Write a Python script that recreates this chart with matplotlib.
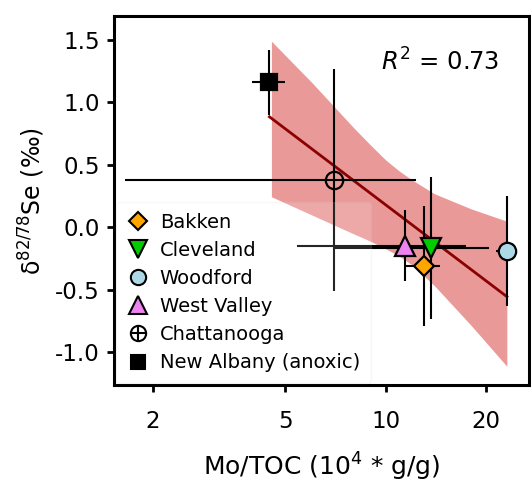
import numpy as np
import matplotlib
matplotlib.use("Agg")
import matplotlib.pyplot as plt
from matplotlib.lines import Line2D
from matplotlib.ticker import FixedLocator, NullLocator, FixedFormatter

plt.rcParams['font.family'] = ['DejaVu Sans']
plt.rcParams['mathtext.fontset'] = 'dejavusans'
plt.rcParams['axes.unicode_minus'] = False

# shale sites
names = ['Bakken', 'Cleveland', 'Woodford', 'West Valley', 'Chattanooga', 'New Albany (anoxic)']
mo_toc = [13.0, 13.7, 23.1, 11.4, 7.0, 4.48]
mo_toc_err = [1.6, 6.7, 1.6, 6.0, 5.35, 0.5]
se = [-0.31, -0.165, -0.185, -0.145, 0.38, 1.16]
se_err = [0.48, 0.57, 0.44, 0.285, 0.89, 0.26]

markers = ['D', 'v', 'o', '^', 'o', 's']
colors = ['orange', '#00cc00', 'lightblue', 'violet', 'none', 'black']
msizes = [10, 14, 12.5, 14, 12.5, 11.5]

# regression fit and confidence band
fit_x = [4.48, 23.1]
fit_y = [0.885, -0.553]
band_x = [4.54, 6.0, 8.0, 9.0, 10.0, 11.0, 12.0, 14.0, 18.0, 23.1]
band_hi = [1.49, 1.16, 0.80, 0.66, 0.54, 0.45, 0.38, 0.27, 0.15, 0.05]
band_lo = [0.246, 0.10, -0.05, -0.11, -0.17, -0.23, -0.30, -0.465, -0.78, -1.11]

fig = plt.figure(figsize=(5.31, 4.9), dpi=100)
ax = fig.add_axes([0.2147, 0.2143, 0.7813, 0.7527])

ax.fill_between(band_x, band_lo, band_hi, color='#ea9999', lw=0, zorder=1)
ax.plot(fit_x, fit_y, color='darkred', lw=2, zorder=2)

handles = []
for i in range(len(names)):
    ax.errorbar(mo_toc[i], se[i], xerr=mo_toc_err[i], yerr=se_err[i],
                fmt='none', ecolor='black', elinewidth=1.5, capsize=0, zorder=3)
    ax.plot(mo_toc[i], se[i], marker=markers[i], ms=msizes[i], mfc=colors[i],
            mec='black', mew=1.6, ls='none', zorder=4)
    h = Line2D([], [], marker=markers[i], ms=msizes[i] * 0.88, mfc=colors[i],
               mec='black', mew=1.5, ls='none')
    if names[i] == 'Chattanooga':
        plus = Line2D([], [], marker='+', ms=msizes[i] * 0.88, mec='black',
                      mew=1.5, ls='none')
        h = (h, plus)
    handles.append(h)

ax.set_xscale('log')
ax.set_xlim(1.53, 26.9)
ax.set_ylim(-1.26, 1.69)
ax.xaxis.set_major_locator(FixedLocator([2, 5, 10, 20]))
ax.xaxis.set_major_formatter(FixedFormatter(['2', '5', '10', '20']))
ax.xaxis.set_minor_locator(NullLocator())
ax.set_yticks([-1.0, -0.5, 0.0, 0.5, 1.0, 1.5])
ax.set_yticklabels(['-1.0', '-0.5', '0.0', '0.5', '1.0', '1.5'])

for s in ax.spines.values():
    s.set_linewidth(2.2)
ax.tick_params(axis='both', direction='out', length=5, width=2, labelsize=16.5, pad=5)
ax.tick_params(axis='x', pad=13)

ax.set_xlabel(r'Mo/TOC ($10^4$ * g/g)', fontsize=18, labelpad=13)
ax.set_ylabel(r'$\mathregular{\delta^{82/78}}$Se (‰)', fontsize=17, labelpad=6)

ax.text(0.785, 0.875, r'$R^2$ = 0.73', transform=ax.transAxes, fontsize=17.5,
        ha='center', va='center')

ax.legend(handles, names, loc='lower left', fontsize=14, frameon=True,
          framealpha=0.15, handletextpad=0.5, borderaxespad=0.1,
          labelspacing=0.47, handlelength=1.2, borderpad=0.55)

fig.savefig('out.png', dpi=100)
